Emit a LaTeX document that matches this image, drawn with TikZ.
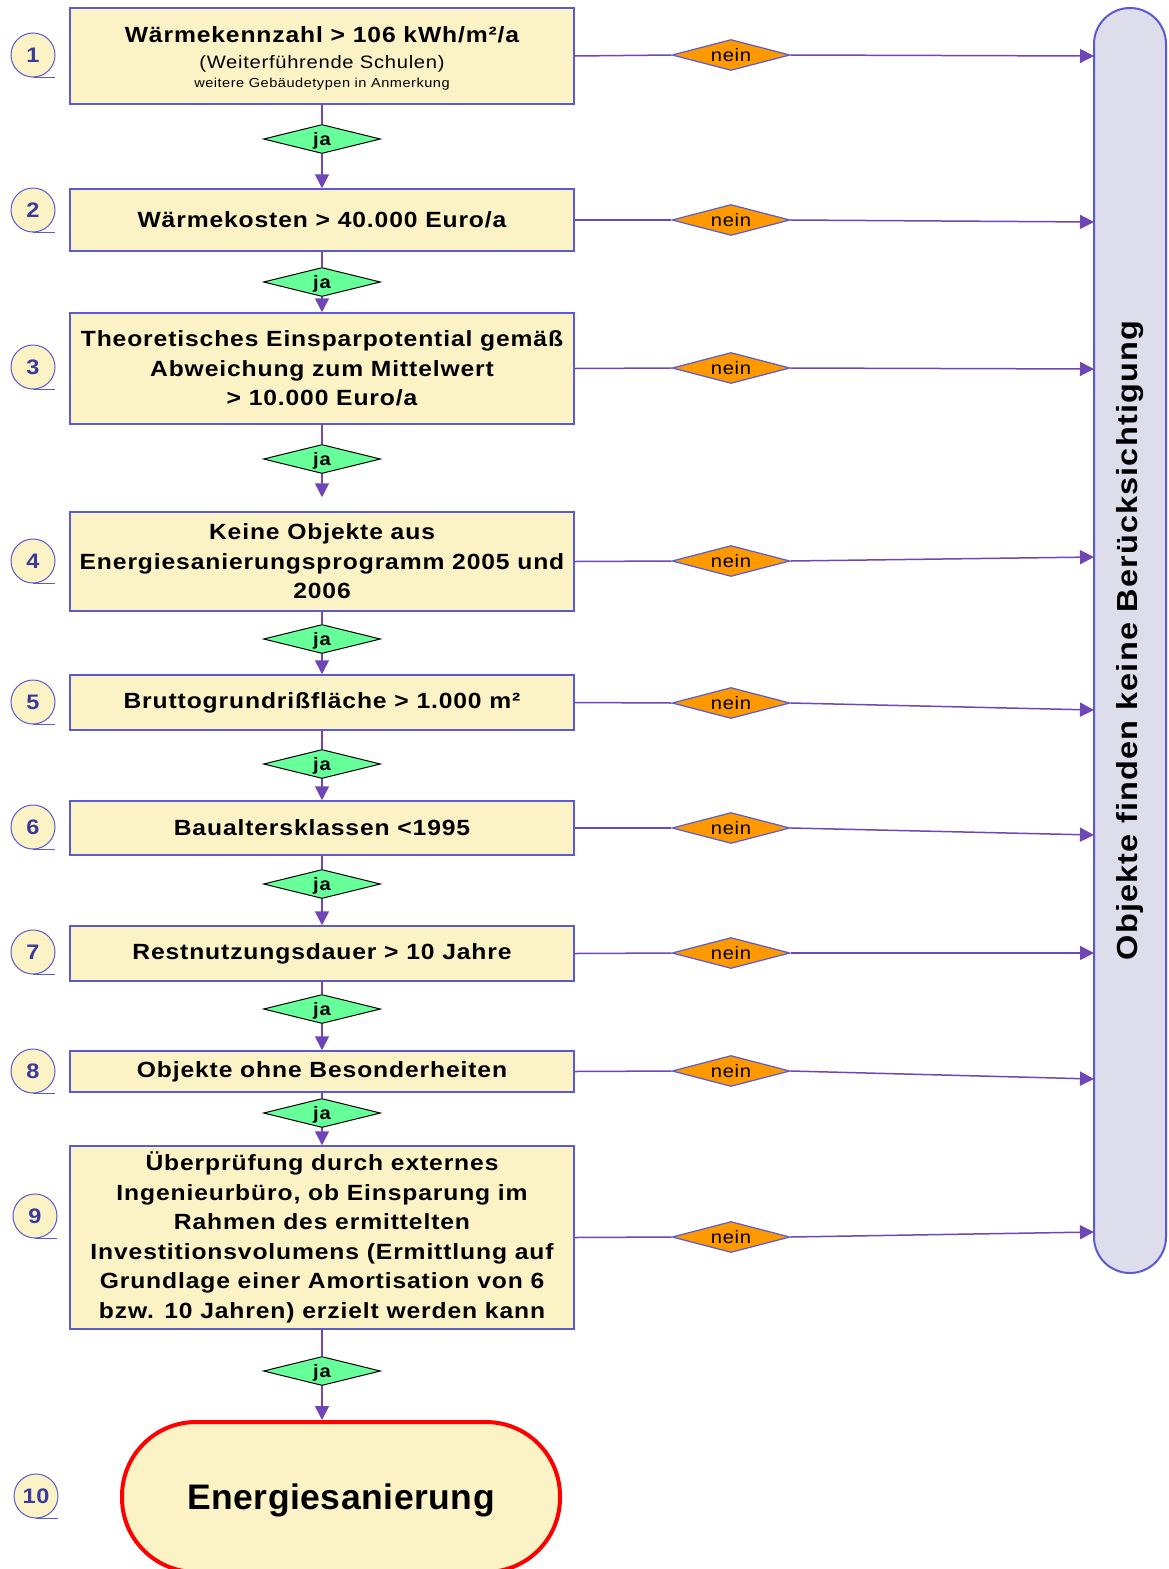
\documentclass[tikz,border=0pt]{standalone}
\usepackage{fontspec}
\setmainfont{Liberation Sans}[FakeStretch=1.12,LetterSpace=4]
\newfontfamily\endfont{Liberation Sans}[LetterSpace=1.5]
\usetikzlibrary{shapes.geometric,arrows.meta}

\definecolor{boxfill}{RGB}{251,243,197}
\definecolor{boxline}{RGB}{90,90,210}
\definecolor{flowline}{RGB}{110,70,184}
\definecolor{jafill}{RGB}{102,255,153}
\definecolor{neinfill}{RGB}{255,153,0}
\definecolor{barfill}{RGB}{221,221,236}
\definecolor{numtext}{RGB}{58,58,154}

\tikzset{
  stepbox/.style={draw=boxline,fill=boxfill,line width=1.5pt,minimum width=504pt,
    align=center,inner sep=0pt,font=\bfseries\fontsize{22}{29.5}\selectfont},
  jadiam/.style={diamond,aspect=4,draw=black,fill=jafill,line width=1pt,inner sep=0pt,
    text depth=0pt,minimum width=117pt,minimum height=29pt,font=\bfseries\fontsize{18}{18}\selectfont},
  neindiam/.style={diamond,aspect=4,draw=boxline,fill=neinfill,line width=1.2pt,inner sep=0pt,
    minimum width=118pt,minimum height=31pt,font=\fontsize{18}{18}\selectfont},
  numcirc/.style={circle,draw=boxline,fill=boxfill,line width=1pt,minimum size=44pt,
    inner sep=0pt,text=numtext,font=\bfseries\fontsize{21}{21}\selectfont},
  barnode/.style={draw=boxline,fill=barfill,line width=2pt,rounded corners=36pt,
    minimum width=1265pt,minimum height=72pt,inner sep=0pt,font=\bfseries\fontsize{29}{29}\selectfont},
  endnode/.style={draw=red,fill=boxfill,line width=4pt,rounded corners=74pt,text depth=0pt,
    minimum width=438pt,minimum height=150pt,font=\endfont\bfseries\fontsize{35.5}{36}\selectfont},
  flow/.style={draw=flowline,line width=1.5pt},
  flowarr/.style={flow,-{Triangle[length=14pt,width=14pt]}},
}

\begin{document}
\begin{tikzpicture}[x=1pt,y=-1pt]
  \useasboundingbox (0,0) rectangle (1169,1569);

  % Kriterien
  \node[stepbox,minimum height=96pt] (k1) at (322,56)
    {\rule{0pt}{20pt}W\"armekennzahl > 106 kWh/m²/a\\[-3.5pt]
     {\mdseries\fontsize{18}{22}\selectfont (Weiterf\"uhrende Schulen)}\\[-10.5pt]
     {\mdseries\fontsize{13}{16}\selectfont weitere Geb\"audetypen in Anmerkung}};
  \node[stepbox,minimum height=62pt] (k2) at (322,220) {W\"armekosten > 40.000 Euro/a};
  \node[stepbox,minimum height=111pt] (k3) at (322,368.5)
    {Theoretisches Einsparpotential gem\"a\ss\\Abweichung zum Mittelwert\\> 10.000 Euro/a};
  \node[stepbox,minimum height=99pt] (k4) at (322,561.5)
    {Keine Objekte aus\\Energiesanierungsprogramm 2005 und\\2006};
  \node[stepbox,minimum height=55pt] (k5) at (322,702.5) {Bruttogrundri\ss fl\"ache > 1.000 m²};
  \node[stepbox,minimum height=54pt] (k6) at (322,828) {Baualtersklassen <1995};
  \node[stepbox,minimum height=55pt] (k7) at (322,953.5) {Restnutzungsdauer > 10 Jahre};
  \node[stepbox,minimum height=41pt] (k8) at (322,1071.5) {Objekte ohne Besonderheiten};
  \node[stepbox,minimum height=183pt] (k9) at (322,1237.5)
    {\"Uberpr\"ufung durch externes\\Ingenieurb\"uro, ob Einsparung im\\Rahmen des ermittelten\\
     Investitionsvolumens (Ermittlung auf\\Grundlage einer Amortisation von 6\\
     bzw. 10 Jahren) erzielt werden kann};
  \node[endnode] (ende) at (341,1497) {Energiesanierung};

  % ja
  \node[jadiam] (j1) at (322,139) {ja};
  \node[jadiam] (j2) at (322,282) {ja};
  \node[jadiam] (j3) at (322,459) {ja};
  \node[jadiam] (j4) at (322,639) {ja};
  \node[jadiam] (j5) at (322,764) {ja};
  \node[jadiam] (j6) at (322,884) {ja};
  \node[jadiam] (j7) at (322,1009) {ja};
  \node[jadiam] (j8) at (322,1113) {ja};
  \node[jadiam] (j9) at (322,1371) {ja};

  \draw[flow] (k1) -- (j1);  \draw[flowarr] (j1) -- (k2);
  \draw[flow] (k2) -- (j2);  \draw[flowarr] (j2) -- (k3);
  \draw[flow] (k3) -- (j3);  \draw[flowarr,shorten >=14pt] (j3) -- (k4);
  \draw[flow] (k4) -- (j4);  \draw[flowarr] (j4) -- (k5);
  \draw[flow] (k5) -- (j5);  \draw[flowarr] (j5) -- (k6);
  \draw[flow] (k6) -- (j6);  \draw[flowarr] (j6) -- (k7);
  \draw[flow] (k7) -- (j7);  \draw[flowarr] (j7) -- (k8);
  \draw[flow] (k8) -- (j8);  \draw[flowarr] (j8) -- (k9);
  \draw[flow] (k9) -- (j9);  \draw[flowarr] (j9) -- (j9 |- ende.north);

  % nein
  \node[barnode,rotate=90] (objekte) at (1130,640.5) {Objekte finden keine Ber\"ucksichtigung};
  \foreach \i/\yn/\ye in {1/55/56,2/220/222,3/368/369,4/561/557,5/703/710,
                          6/828/835,7/953/953,8/1071/1079,9/1237/1232} {
    \node[neindiam] (n\i) at (731,\yn) {nein};
    \coordinate (e\i) at (1094,\ye);
    \draw[flow] (k\i.east) -- (n\i.west);
    \draw[flowarr] (n\i.east) -- (e\i);
  }

  % Nummern
  \foreach \n/\x/\y in {1/33/55,2/33/210,3/33/367,4/33/561,5/33/702,
                        6/33/827,7/33/952,8/33/1071,9/35/1216,10/36/1496} {
    \node[numcirc] (c\n) at (\x,\y) {\n};
    \draw[boxline,line width=1pt] (c\n.south) -- ++(22,0);
  }
\end{tikzpicture}
\end{document}
